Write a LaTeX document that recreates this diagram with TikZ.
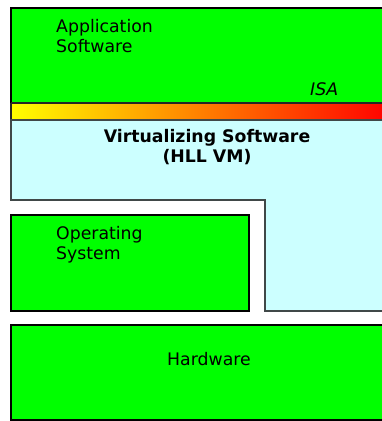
\documentclass[tikz,border=0pt]{standalone}
\usepackage{fontspec}
\setmainfont{DejaVu Sans}
\begin{document}
\begin{tikzpicture}[x=1pt,y=-1pt,
  lbl/.style={inner sep=0pt,font=\fontsize{17.3}{20}\selectfont,align=left,anchor=base west},
  greenbox/.style={fill=hwgreen,draw=black,line width=1.4pt},
  ]
\definecolor{hwgreen}{HTML}{00FF00}
\definecolor{vmcyan}{HTML}{CCFFFF}
\definecolor{edge}{HTML}{404848}
\useasboundingbox (0,0) rectangle (382,421);
\fill[white] (0,0) rectangle (382,421);
\clip (0,0) rectangle (382,421);
% application software
\draw[greenbox] (11,8) rectangle (390,103);
% ISA bar
\shade[left color=yellow,right color=red] (11,103) rectangle (390,120);
\draw[line width=1.4pt,black!85] (11,103) -- (390,103) (11,120) -- (390,120) (11,103) -- (11,120);
% VM region
\draw[fill=vmcyan,draw=edge,line width=1.4pt] (390,120) -- (11,120) -- (11,200) -- (265,200) -- (265,311) -- (390,311);
% OS
\draw[greenbox] (11,215) rectangle (249,311);
% hardware
\draw[greenbox] (11,325) rectangle (390,420);
% labels
\node[lbl] (app) at (56,52) {Application\\Software};
\node[lbl,font=\fontsize{17.3}{20}\selectfont\itshape] (isa) at (310,95) {ISA};
\node[inner sep=0pt,font=\fontsize{17.3}{19.5}\selectfont\bfseries,align=center,anchor=base] (vm) at (207,162) {Virtualizing Software\\(HLL VM)};
\node[lbl] (os) at (56,259) {Operating\\System};
\node[inner sep=0pt,font=\fontsize{17.3}{20}\selectfont,anchor=base] (hw) at (209,365) {Hardware};
\end{tikzpicture}
\end{document}
